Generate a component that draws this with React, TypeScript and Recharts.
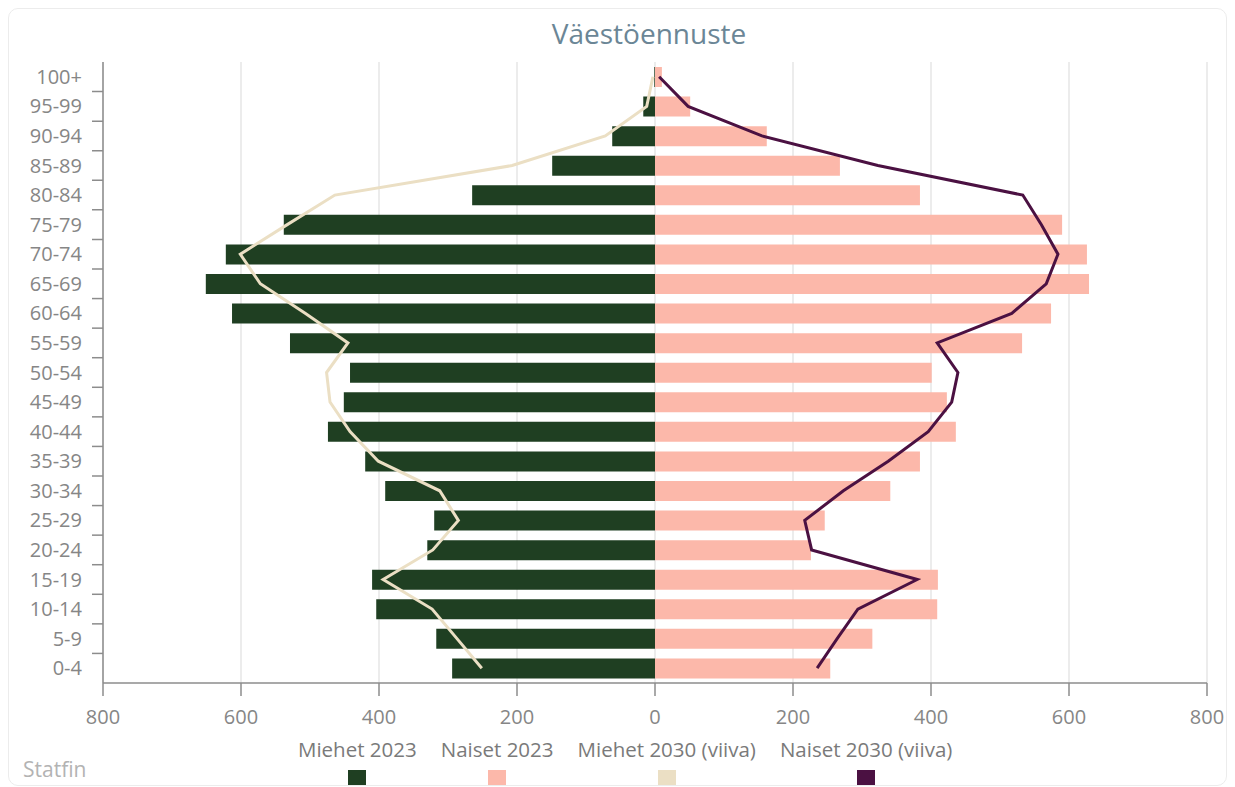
import {
  Bar,
  CartesianGrid,
  ComposedChart,
  Line,
  XAxis,
  YAxis,
} from 'recharts';

const ages = [
  '100+', '95-99', '90-94', '85-89', '80-84', '75-79', '70-74', '65-69', '60-64', '55-59',
  '50-54', '45-49', '40-44', '35-39', '30-34', '25-29', '20-24', '15-19', '10-14', '5-9', '0-4',
];

const men2023 = [1, 17, 62, 149, 265, 538, 622, 651, 613, 529, 442, 451, 474, 420, 391, 320, 330, 410, 404, 317, 294];
const women2023 = [10, 51, 162, 268, 384, 590, 626, 629, 574, 532, 401, 423, 436, 384, 341, 246, 226, 410, 409, 315, 254];
const men2030 = [3, 12, 72, 207, 464, 533, 601, 572, 507, 445, 476, 471, 442, 401, 312, 285, 322, 394, 323, 287, 251];
const women2030 = [6, 48, 155, 323, 533, 560, 584, 567, 517, 409, 439, 430, 396, 338, 273, 217, 227, 380, 294, 264, 235];

const xTicks = [-800, -600, -400, -200, 0, 200, 400, 600, 800];

const seriesNames = ['Miehet 2023', 'Naiset 2023', 'Miehet 2030 (viiva)', 'Naiset 2030 (viiva)'];
const seriesColors = ['#1f3f22', '#fcb8aa', '#ebdfc4', '#4b1142'];

const data = ages.map((age, i) => ({
  age,
  m23: -men2023[i],
  w23: women2023[i],
  m30: -men2030[i],
  w30: women2030[i],
}));

const W = 1217;
const H = 776;
const M = { top: 53, right: 19, bottom: 62, left: 0 };
const Y_AXIS_W = 94;
const X_AXIS_H = 40;
const plotH = H - M.top - M.bottom - X_AXIS_H;
const band = plotH / ages.length;
const tickColor = '#868686';

function AgeTick(props: any) {
  const { y, payload } = props;
  const axisX = M.left + Y_AXIS_W;
  const last = payload.value === ages[ages.length - 1];
  return (
    <g>
      <text x={axisX - 21} y={y} dy="0.35em" textAnchor="end" fill={tickColor} fontSize={20}>
        {payload.value}
      </text>
      {!last && (
        <line x1={axisX - 11} x2={axisX} y1={y + band / 2} y2={y + band / 2} stroke="#8c8c8c" strokeWidth={1.5} />
      )}
    </g>
  );
}

export default function App() {
  return (
    <div
      style={{
        position: 'relative',
        width: 1219,
        height: 778,
        boxSizing: 'border-box',
        border: '1px solid #ececec',
        borderRadius: 10,
        overflow: 'hidden',
        fontFamily: "'Open Sans', sans-serif",
        background: '#fff',
      }}
    >
      <div
        style={{
          position: 'absolute',
          top: 5,
          left: 88,
          width: 1104,
          textAlign: 'center',
          fontSize: 28,
          color: '#6b8696',
        }}
      >
        Väestöennuste
      </div>
      <div style={{ position: 'absolute', left: 0, top: 0 }}>
        <ComposedChart
          width={W}
          height={H}
          data={data}
          layout="vertical"
          stackOffset="sign"
          margin={M}
        >
          <CartesianGrid horizontal={false} stroke="#d9d9d9" />
          <XAxis
            type="number"
            domain={[-800, 800]}
            ticks={xTicks}
            tickFormatter={(v: number) => String(Math.abs(v))}
            height={X_AXIS_H}
            tickSize={13}
            tickMargin={14}
            stroke="#8c8c8c"
            strokeWidth={1.5}
            tick={{ fill: tickColor, fontSize: 20 }}
          />
          <YAxis
            type="category"
            dataKey="age"
            width={Y_AXIS_W}
            tickLine={false}
            stroke="#8c8c8c"
            strokeWidth={1.5}
            tick={<AgeTick />}
            interval={0}
          />
          <Bar dataKey="m23" name={seriesNames[0]} stackId="a" fill={seriesColors[0]} barSize={20} isAnimationActive={false} />
          <Bar dataKey="w23" name={seriesNames[1]} stackId="a" fill={seriesColors[1]} barSize={20} isAnimationActive={false} />
          <Line dataKey="m30" name={seriesNames[2]} stroke={seriesColors[2]} strokeWidth={3} dot={false} isAnimationActive={false} />
          <Line dataKey="w30" name={seriesNames[3]} stroke={seriesColors[3]} strokeWidth={3} dot={false} isAnimationActive={false} />
        </ComposedChart>
      </div>
      <div
        style={{
          position: 'absolute',
          top: 727,
          left: 289,
          display: 'flex',
          gap: 24,
        }}
      >
        {seriesNames.map((name, i) => (
          <div key={name} style={{ display: 'flex', flexDirection: 'column', alignItems: 'center' }}>
            <span style={{ fontSize: 20.5, color: '#7a7a7a', lineHeight: '26px', whiteSpace: 'nowrap' }}>{name}</span>
            <span style={{ width: 18, height: 18, marginTop: 8, background: seriesColors[i] }} />
          </div>
        ))}
      </div>
      <div style={{ position: 'absolute', left: 14, top: 746, fontSize: 21, color: '#b3b3b3' }}>Statfin</div>
    </div>
  );
}
